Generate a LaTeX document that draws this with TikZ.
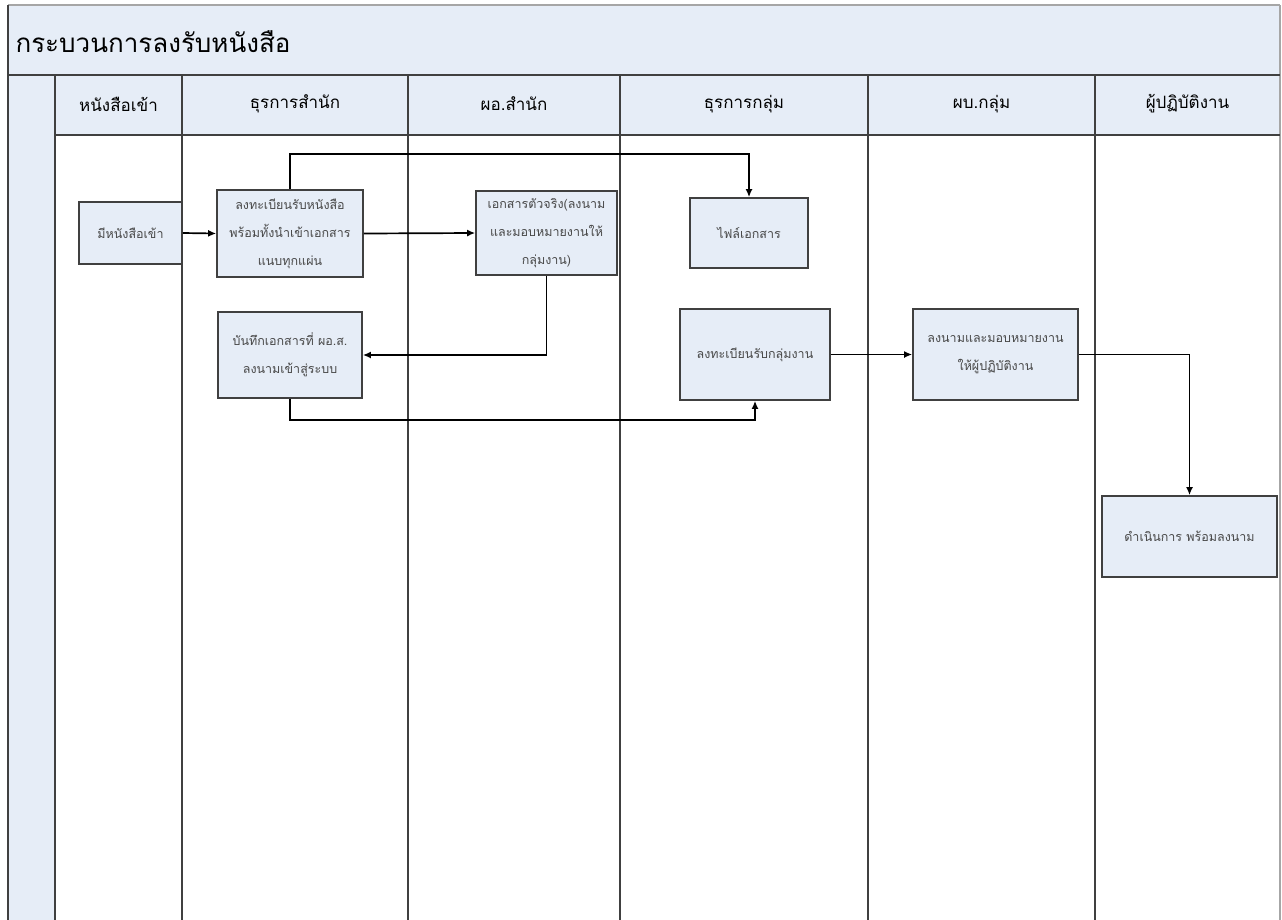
\documentclass[tikz,border=0pt]{standalone}
\usepackage{fontspec}
\newfontfamily\thaifont[Script=Thai]{Loma}
\usetikzlibrary{arrows.meta}
\definecolor{lanefill}{RGB}{230,237,247}
\definecolor{framegray}{RGB}{64,64,64}
\definecolor{boxtext}{RGB}{72,72,72}
\tikzset{
  box/.style={draw=framegray, line width=1.7pt, fill=lanefill, align=center,
    inner sep=1pt, text=boxtext, font=\thaifont\fontsize{12.5}{28}\selectfont},
  arr/.style={draw=black, line width=1.7pt, -{Latex[length=8pt,width=7pt]}},
  lane/.style={draw=framegray, line width=1.8pt},
  hdr/.style={font=\thaifont\fontsize{17}{20}\selectfont, text=black},
}
\begin{document}
\begin{tikzpicture}[x=1pt,y=-1pt]
\useasboundingbox (0,0) rectangle (1282,919);
\fill[white] (0,0) rectangle (1282,919);
% title band and header row
\fill[lanefill] (8,5) rectangle (1280,135);
\fill[lanefill] (8,135) rectangle (55,925);
\draw[draw=gray!70, line width=1.2pt] (8,5) -- (1280,5);
\draw[draw=gray!70, line width=1.2pt] (1280,5) -- (1280,925);
\draw[lane] (8,5) -- (8,925);
\draw[lane] (8,75) -- (1280,75);
\draw[draw=framegray, line width=1.3pt] (55,135) -- (1280,135);
\foreach \xx in {55,182,408,868,1095} {\draw[lane] (\xx,75) -- (\xx,925);}
\draw[draw=framegray, line width=2.4pt] (620,75) -- (620,925);
\node[anchor=west, font=\thaifont\fontsize{26}{30}\selectfont, text=black] (title) at (12,42) {กระบวนการลงรับหนังสือ};
\node[hdr] (h1) at (118.5,104) {หนังสือเข้า};
\node[hdr] (h2) at (295,104) {ธุรการสำนัก};
\node[hdr] (h3) at (514,104) {ผอ.สำนัก};
\node[hdr] (h4) at (744,104) {ธุรการกลุ่ม};
\node[hdr] (h5) at (981.5,104) {ผบ.กลุ่ม};
\node[hdr] (h6) at (1187.5,104) {ผู้ปฏิบัติงาน};
% boxes
\node[box, minimum width=103, minimum height=62] (b1) at (130.5,233) {มีหนังสือเข้า};
\node[box, minimum width=146, minimum height=87] (b2) at (290,233.5) {ลงทะเบียนรับหนังสือ\\พร้อมทั้งนำเข้าเอกสาร\\แนบทุกแผ่น};
\node[box, minimum width=141, minimum height=84] (b3) at (546.5,233) {เอกสารตัวจริง(ลงนาม\\และมอบหมายงานให้\\กลุ่มงาน)};
\node[box, minimum width=118, minimum height=70] (b4) at (749,233) {ไฟล์เอกสาร};
\node[box, minimum width=144, minimum height=86] (b5) at (290,355) {บันทึกเอกสารที่ ผอ.ส.\\ลงนามเข้าสู่ระบบ};
\node[box, minimum width=150, minimum height=91] (b6) at (755,354.5) {ลงทะเบียนรับกลุ่มงาน};
\node[box, minimum width=165, minimum height=91] (b7) at (995.5,354.5) {ลงนามและมอบหมายงาน\\ให้ผู้ปฏิบัติงาน};
\node[box, minimum width=175, minimum height=81] (b8) at (1189.5,536.5) {ดำเนินการ พร้อมลงนาม};
% connectors
\coordinate (c1) at (749,154);
\coordinate (c2) at (755,420);
\draw[arr] (b1.east) -- (b2.west);
\draw[arr] (b2.east) -- (b3.west);
\draw[arr] (b2.north) |- (c1) -- (b4.north);
\draw[arr] (b3.south) |- (b5.east);
\draw[arr] (b5.south) |- (c2) -- (b6.south);
\draw[arr] (b6.east) -- (b7.west);
\draw[arr] (b7.east) -| (b8.north);
\end{tikzpicture}
\end{document}
